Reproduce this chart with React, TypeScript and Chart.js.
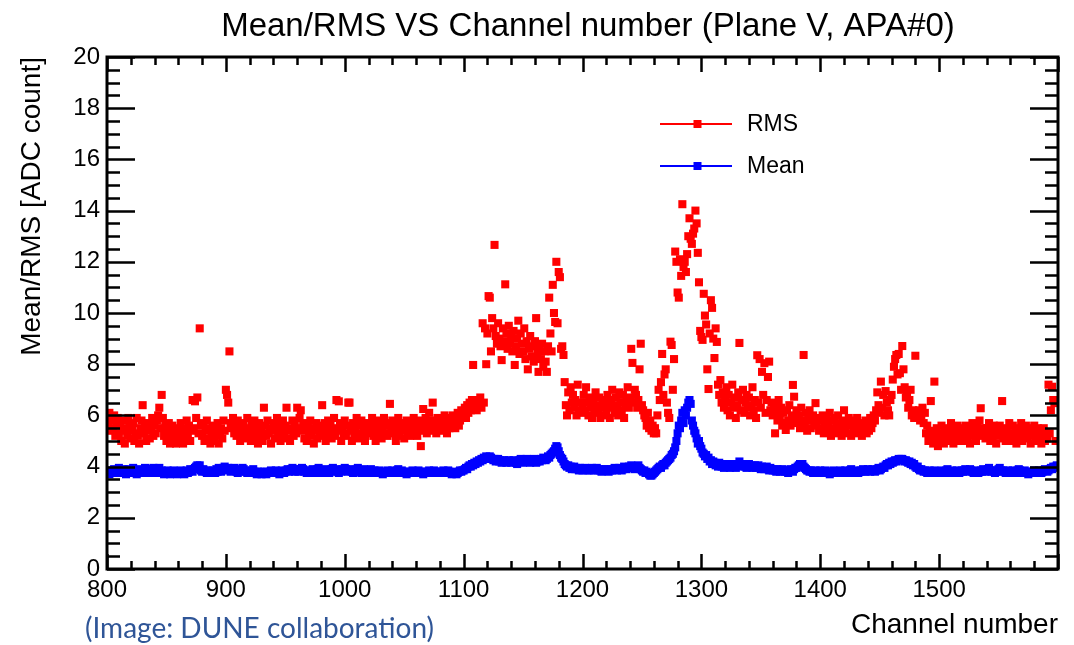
import React, { useEffect, useRef } from 'react';
import { Chart, registerables } from 'chart.js';

Chart.register(...registerables);

// ---------------- text ----------------
const chartTitle = 'Mean/RMS VS Channel number (Plane V, APA#0)';
const xAxisTitle = 'Channel number';
const yAxisTitle = 'Mean/RMS [ADC count]';
const creditText = '(Image: DUNE collaboration)';
const seriesNames = ['RMS', 'Mean'];

// ---------------- axes ----------------
const firstChannel = 800;
const xMin = 800;
const xMax = 1600;
const yMin = 0;
const yMax = 20;
const xTickValues = [800, 900, 1000, 1100, 1200, 1300, 1400, 1500];
const xTickLabels = ['800', '900', '1000', '1100', '1200', '1300', '1400', '1500'];
const yTickValues = [0, 2, 4, 6, 8, 10, 12, 14, 16, 18, 20];
const yTickLabels = ['0', '2', '4', '6', '8', '10', '12', '14', '16', '18', '20'];

// ---------------- data: one value per channel, starting at channel 800 ----------------
const rmsValues = [
  6.0, 5.6, 6.1, 5.4, 5.8, 5.5, 6.0, 5.2, 5.7, 5.9, 5.3, 5.6, 5.0, 5.8, 5.4, 4.9, 5.5, 5.2, 5.9, 5.6, // 800
  5.1, 5.4, 5.7, 5.0, 5.3, 5.9, 5.2, 4.9, 5.5, 5.8, 6.4, 5.3, 5.6, 5.0, 5.4, 5.7, 5.1, 5.5, 5.9, 5.2, // 820
  5.6, 5.3, 5.8, 6.0, 6.3, 5.5, 6.8, 5.9, 5.2, 5.6, 5.0, 5.4, 5.7, 4.9, 5.3, 5.6, 5.1, 5.5, 4.9, 5.2, // 840
  5.4, 5.0, 5.7, 5.3, 4.9, 5.5, 5.1, 5.8, 5.2, 5.6, 5.0, 5.4, 6.6, 5.5, 6.55, 5.9, 6.7, 5.3, 9.4, 5.6, // 860
  5.2, 5.7, 5.0, 5.4, 5.8, 5.1, 5.5, 4.9, 5.3, 5.6, 5.0, 5.4, 5.2, 5.7, 4.9, 5.3, 5.5, 5.1, 5.8, 5.4, // 880
  7.0, 6.8, 6.5, 8.5, 5.7, 5.5, 5.9, 5.3, 5.6, 5.2, 5.8, 5.4, 5.0, 5.6, 5.3, 5.7, 5.1, 5.5, 5.9, 5.2, // 900
  5.4, 5.0, 5.6, 5.3, 5.8, 5.1, 5.5, 4.9, 5.7, 5.2, 5.4, 5.0, 6.3, 5.6, 5.2, 5.8, 5.3, 5.5, 4.9, 5.4, // 920
  5.7, 5.1, 5.5, 5.9, 5.2, 5.6, 5.0, 5.4, 5.8, 5.3, 5.6, 6.3, 5.1, 5.5, 5.0, 5.4, 5.8, 5.2, 5.6, 5.3, // 940
  6.3, 5.5, 5.9, 6.2, 5.4, 5.7, 5.1, 5.5, 5.0, 5.6, 5.3, 5.8, 5.2, 5.5, 4.9, 5.4, 5.7, 5.1, 5.6, 5.3, // 960
  5.5, 6.4, 5.2, 5.7, 5.0, 5.4, 5.8, 5.3, 5.6, 5.1, 5.5, 5.9, 5.2, 6.6, 5.4, 6.55, 5.7, 5.0, 5.5, 5.3, // 980
  5.8, 5.2, 5.6, 6.5, 6.5, 5.4, 5.0, 5.7, 5.3, 5.5, 5.9, 5.1, 5.6, 5.3, 5.8, 5.2, 5.5, 5.0, 5.6, 5.4, // 1000
  5.7, 5.3, 5.5, 5.9, 5.2, 5.6, 5.0, 5.4, 5.8, 5.3, 5.6, 5.1, 5.5, 5.9, 5.3, 5.7, 5.2, 5.6, 6.45, 5.4, // 1020
  5.8, 5.3, 5.6, 5.0, 5.5, 5.9, 5.2, 5.7, 5.4, 5.6, 5.1, 5.5, 5.8, 5.3, 5.7, 5.2, 5.6, 5.4, 5.9, 5.3, // 1040
  5.6, 5.2, 5.8, 5.5, 4.8, 5.7, 6.25, 5.4, 5.9, 5.3, 5.6, 6.1, 5.5, 5.8, 6.5, 5.4, 5.7, 5.3, 5.9, 5.6, // 1060
  5.8, 5.4, 5.7, 5.5, 6.0, 5.6, 5.3, 5.9, 5.5, 5.8, 5.6, 6.0, 5.7, 5.5, 5.9, 6.1, 5.6, 5.8, 6.2, 5.9, // 1080
  6.0, 6.3, 5.9, 6.4, 6.1, 6.5, 6.2, 6.6, 7.97, 6.3, 6.6, 6.2, 6.5, 6.4, 6.7, 6.3, 9.6, 6.5, 9.4, 8.0, // 1100
  9.2, 10.66, 10.6, 8.5, 9.8, 9.4, 12.66, 9.1, 8.8, 9.6, 9.0, 8.7, 8.16, 9.4, 8.9, 11.12, 9.2, 8.6, 9.5, 8.8, // 1120
  9.1, 8.5, 9.3, 7.97, 8.7, 9.0, 9.7, 8.4, 9.2, 8.8, 8.5, 9.4, 8.2, 8.9, 7.8, 8.6, 9.1, 8.3, 8.7, 8.1, // 1140
  8.9, 9.8, 8.4, 7.7, 8.6, 8.2, 8.8, 7.9, 8.5, 8.1, 7.7, 8.7, 10.6, 9.2, 8.5, 11.1, 10.0, 9.65, 12.0, 9.6, // 1160
  11.6, 11.4, 8.6, 8.7, 8.36, 7.3, 6.4, 6.0, 6.9, 6.2, 7.1, 6.5, 6.8, 6.3, 6.6, 6.0, 7.2, 6.2, 6.5, 6.1, // 1180
  6.4, 6.8, 6.2, 7.1, 6.5, 6.0, 6.7, 6.3, 5.9, 6.6, 6.2, 6.9, 6.4, 6.1, 6.7, 5.9, 6.3, 6.6, 6.0, 6.5, // 1200
  6.2, 6.8, 6.4, 5.9, 6.6, 7.0, 6.3, 6.1, 6.7, 6.4, 6.0, 6.9, 6.5, 6.2, 6.8, 5.9, 6.4, 6.6, 7.1, 6.3, // 1220
  6.7, 8.6, 8.05, 6.5, 7.0, 6.8, 6.3, 6.6, 7.8, 8.8, 6.4, 6.2, 6.0, 5.9, 5.6, 6.1, 5.5, 5.8, 5.4, 5.6, // 1240
  5.3, 5.5, 5.3, 6.0, 7.0, 6.6, 7.3, 8.4, 6.8, 7.6, 7.8, 6.5, 6.1, 5.9, 8.88, 8.75, 7.0, 8.2, 12.4, 12.0, // 1260
  10.8, 10.6, 12.1, 11.45, 14.25, 11.8, 12.0, 11.6, 12.3, 13.0, 13.7, 12.9, 12.7, 13.1, 13.3, 14.0, 13.5, 12.35, 11.2, 9.3, // 1280
  9.06, 8.95, 10.75, 9.9, 9.55, 7.8, 7.03, 9.2, 10.5, 10.2, 9.0, 8.24, 9.4, 8.87, 7.2, 6.8, 7.38, 6.5, 6.9, 6.3, // 1300
  6.6, 7.1, 6.2, 6.8, 6.0, 6.5, 7.2, 6.3, 6.7, 5.9, 6.4, 6.9, 8.83, 6.2, 6.6, 7.0, 6.1, 6.5, 6.8, 6.3, // 1320
  6.7, 6.0, 6.4, 7.1, 6.2, 6.6, 5.9, 8.35, 6.5, 8.2, 6.3, 7.7, 6.8, 8.04, 6.1, 6.6, 7.5, 8.1, 6.2, 6.5, // 1340
  6.0, 6.4, 5.3, 6.2, 5.8, 6.6, 5.9, 6.3, 5.6, 6.1, 5.7, 5.43, 6.2, 5.8, 6.4, 5.6, 6.0, 7.19, 6.73, 5.9, // 1360
  6.2, 5.7, 6.0, 5.5, 6.3, 5.8, 8.36, 5.6, 6.1, 5.4, 5.9, 6.2, 5.5, 5.8, 6.0, 5.6, 6.48, 5.7, 5.9, 5.4, // 1380
  5.8, 5.5, 6.0, 5.3, 5.7, 5.9, 5.4, 5.6, 6.1, 5.2, 5.8, 5.5, 5.9, 5.3, 5.7, 6.0, 5.4, 5.6, 5.2, 5.8, // 1400
  6.2, 5.5, 5.7, 5.3, 5.9, 5.6, 5.2, 5.8, 5.4, 5.7, 5.5, 5.9, 5.3, 5.6, 5.4, 5.2, 5.7, 5.5, 5.8, 5.3, // 1420
  5.6, 5.4, 5.9, 5.5, 5.7, 6.0, 5.8, 6.2, 6.9, 6.4, 6.1, 7.32, 6.3, 6.8, 6.0, 6.95, 6.5, 6.2, 6.0, 6.6, // 1440
  6.8, 7.4, 7.9, 8.2, 8.36, 7.6, 8.4, 7.65, 7.0, 8.71, 7.8, 7.1, 6.7, 6.9, 6.3, 6.6, 7.0, 6.0, 6.2, 5.9, // 1460
  8.33, 6.1, 5.9, 6.2, 5.8, 6.0, 6.3, 5.7, 6.1, 5.3, 5.6, 5.0, 5.4, 6.56, 5.2, 4.9, 7.32, 5.1, 5.5, 4.8, // 1480
  5.3, 5.0, 5.6, 5.2, 4.9, 5.4, 5.1, 5.5, 5.0, 5.3, 5.7, 5.2, 4.9, 5.4, 5.1, 5.6, 5.3, 5.0, 5.5, 5.2, // 1500
  5.4, 5.0, 5.6, 5.3, 5.1, 5.5, 4.9, 5.3, 5.7, 5.2, 5.4, 5.0, 5.6, 5.3, 5.8, 6.28, 5.5, 5.2, 5.4, 5.1, // 1520
  5.5, 5.2, 5.7, 5.0, 5.4, 5.1, 5.6, 5.3, 4.9, 5.5, 5.2, 5.6, 5.3, 6.56, 5.1, 5.4, 5.0, 5.5, 5.2, 5.7, // 1540
  5.3, 5.0, 5.6, 5.2, 5.4, 4.9, 5.5, 5.1, 5.3, 5.7, 5.0, 5.4, 5.2, 5.6, 5.1, 5.3, 5.5, 4.9, 5.4, 5.2, // 1560
  5.6, 5.0, 5.3, 5.5, 5.1, 5.4, 4.9, 5.2, 5.5, 5.0, 5.3, 5.1, 7.2, 5.3, 6.2, 7.12, 6.6, 6.48, 5.0, 6.6, // 1580
];

const meanValues = [
  3.75, 3.8, 3.7, 3.85, 3.75, 3.8, 3.9, 3.75, 3.8, 3.85, 3.95, 3.8, 3.75, 3.85, 3.9, 3.8, 3.7, 3.85, 3.9, 3.8, // 800
  3.75, 3.85, 3.95, 3.8, 3.75, 3.7, 3.85, 3.8, 3.9, 3.75, 3.8, 3.85, 3.95, 3.9, 3.8, 3.75, 3.85, 3.8, 3.9, 3.95, // 820
  3.8, 3.75, 3.85, 3.9, 3.95, 3.8, 3.85, 3.75, 3.7, 3.8, 3.75, 3.85, 3.8, 3.7, 3.75, 3.8, 3.85, 3.75, 3.8, 3.7, // 840
  3.75, 3.8, 3.85, 3.75, 3.8, 3.7, 3.8, 3.85, 3.75, 3.8, 3.9, 3.85, 3.8, 3.9, 3.95, 4.0, 4.05, 3.9, 4.05, 3.85, // 860
  3.8, 3.9, 3.85, 3.8, 3.75, 3.85, 3.8, 3.75, 3.8, 3.85, 3.8, 3.75, 3.9, 3.8, 3.95, 3.85, 3.8, 3.9, 3.95, 4.0, // 880
  3.9, 3.85, 3.95, 3.9, 3.8, 3.85, 3.9, 3.95, 3.85, 3.8, 3.75, 3.85, 3.9, 3.8, 3.95, 3.9, 3.85, 3.8, 3.75, 3.8, // 900
  3.75, 3.8, 3.85, 3.9, 3.8, 3.75, 3.7, 3.8, 3.75, 3.8, 3.7, 3.75, 3.8, 3.75, 3.7, 3.8, 3.75, 3.8, 3.85, 3.75, // 920
  3.8, 3.75, 3.85, 3.8, 3.75, 3.7, 3.8, 3.85, 3.8, 3.75, 3.8, 3.85, 3.9, 3.8, 3.85, 3.9, 3.95, 3.85, 3.8, 3.9, // 940
  3.85, 3.8, 3.9, 3.85, 3.95, 3.9, 3.8, 3.85, 3.75, 3.8, 3.85, 3.75, 3.8, 3.9, 3.85, 3.8, 3.75, 3.9, 3.95, 3.85, // 960
  3.8, 3.85, 3.75, 3.8, 3.9, 3.85, 3.8, 3.75, 3.85, 3.9, 3.95, 3.85, 3.8, 3.9, 3.8, 3.75, 3.85, 3.8, 3.9, 3.85, // 980
  3.95, 3.9, 3.85, 3.8, 3.9, 3.85, 3.8, 3.75, 3.85, 3.8, 3.9, 3.95, 3.85, 3.8, 3.75, 3.8, 3.9, 3.85, 3.8, 3.75, // 1000
  3.8, 3.85, 3.9, 3.8, 3.75, 3.85, 3.8, 3.75, 3.8, 3.85, 3.8, 3.75, 3.7, 3.8, 3.75, 3.8, 3.85, 3.8, 3.75, 3.8, // 1020
  3.85, 3.8, 3.75, 3.8, 3.85, 3.9, 3.8, 3.75, 3.85, 3.8, 3.75, 3.8, 3.7, 3.75, 3.8, 3.75, 3.8, 3.85, 3.75, 3.8, // 1040
  3.75, 3.8, 3.85, 3.8, 3.75, 3.8, 3.7, 3.75, 3.8, 3.75, 3.8, 3.85, 3.8, 3.75, 3.8, 3.85, 3.8, 3.75, 3.8, 3.75, // 1060
  3.8, 3.75, 3.8, 3.85, 3.8, 3.75, 3.8, 3.85, 3.8, 3.75, 3.7, 3.75, 3.8, 3.75, 3.7, 3.75, 3.8, 3.85, 3.8, 3.85, // 1080
  3.85, 3.9, 3.95, 3.9, 4.0, 4.05, 4.0, 4.1, 4.05, 4.15, 4.1, 4.2, 4.15, 4.25, 4.2, 4.3, 4.25, 4.35, 4.3, 4.4, // 1100
  4.35, 4.3, 4.4, 4.35, 4.3, 4.25, 4.3, 4.2, 4.25, 4.3, 4.2, 4.25, 4.15, 4.2, 4.25, 4.2, 4.15, 4.2, 4.25, 4.2, // 1120
  4.15, 4.2, 4.25, 4.2, 4.15, 4.1, 4.2, 4.25, 4.3, 4.2, 4.15, 4.2, 4.25, 4.3, 4.25, 4.2, 4.15, 4.2, 4.25, 4.3, // 1140
  4.2, 4.15, 4.2, 4.25, 4.2, 4.3, 4.25, 4.35, 4.3, 4.25, 4.3, 4.4, 4.35, 4.45, 4.5, 4.55, 4.6, 4.7, 4.8, 4.75, // 1160
  4.6, 4.45, 4.35, 4.3, 4.2, 4.1, 4.05, 4.0, 4.05, 3.95, 4.0, 3.9, 3.95, 4.0, 3.9, 3.95, 3.9, 3.85, 3.95, 3.9, // 1180
  3.85, 3.9, 3.95, 3.9, 3.85, 3.9, 3.85, 3.9, 3.95, 3.9, 3.85, 3.9, 3.95, 3.85, 3.9, 3.85, 3.8, 3.85, 3.9, 3.85, // 1200
  3.9, 3.85, 3.8, 3.85, 3.9, 3.85, 3.9, 3.95, 3.9, 3.85, 3.9, 3.95, 3.9, 3.85, 3.9, 4.0, 3.95, 3.9, 3.95, 4.0, // 1220
  3.95, 4.05, 4.0, 3.95, 3.9, 3.95, 4.0, 4.05, 3.95, 3.9, 3.85, 3.8, 3.85, 3.75, 3.8, 3.75, 3.7, 3.65, 3.65, 3.7, // 1240
  3.75, 3.8, 3.85, 3.9, 3.95, 4.0, 3.95, 4.05, 4.1, 4.05, 4.15, 4.2, 4.25, 4.3, 4.35, 4.45, 4.5, 4.6, 4.75, 5.0, // 1260
  5.3, 5.6, 5.5, 5.8, 6.1, 5.7, 6.2, 6.0, 6.3, 6.5, 6.6, 6.45, 5.8, 5.6, 5.4, 5.3, 5.1, 4.9, 5.0, 4.8, // 1280
  4.7, 4.55, 4.5, 4.4, 4.45, 4.3, 4.35, 4.2, 4.25, 4.1, 4.2, 4.15, 4.05, 4.1, 4.0, 4.15, 4.05, 4.0, 4.1, 3.95, // 1300
  4.05, 4.0, 4.1, 4.05, 3.95, 4.0, 4.1, 4.05, 4.0, 3.95, 4.05, 4.1, 4.2, 4.05, 4.0, 4.1, 4.05, 4.0, 3.95, 4.05, // 1320
  4.1, 4.0, 4.05, 3.95, 4.0, 4.05, 3.95, 4.0, 4.05, 3.95, 3.9, 4.0, 3.95, 3.9, 3.95, 4.0, 3.9, 3.85, 3.95, 3.9, // 1340
  3.85, 3.9, 3.85, 3.8, 3.9, 3.85, 3.8, 3.85, 3.9, 3.85, 3.8, 3.85, 3.8, 3.75, 3.85, 3.9, 3.85, 3.8, 3.9, 3.95, // 1360
  3.95, 4.0, 4.05, 4.1, 4.05, 4.1, 4.0, 3.95, 3.9, 3.85, 3.85, 3.8, 3.85, 3.8, 3.75, 3.8, 3.85, 3.8, 3.75, 3.8, // 1380
  3.85, 3.8, 3.75, 3.8, 3.85, 3.8, 3.75, 3.8, 3.7, 3.75, 3.8, 3.85, 3.8, 3.75, 3.8, 3.75, 3.8, 3.85, 3.8, 3.75, // 1400
  3.8, 3.85, 3.8, 3.75, 3.8, 3.85, 3.9, 3.8, 3.75, 3.8, 3.85, 3.8, 3.75, 3.8, 3.85, 3.8, 3.9, 3.85, 3.8, 3.85, // 1420
  3.9, 3.85, 3.8, 3.85, 3.9, 3.85, 3.8, 3.85, 3.9, 3.95, 3.85, 3.9, 3.95, 4.0, 3.95, 4.05, 4.1, 4.05, 4.15, 4.1, // 1440
  4.2, 4.15, 4.2, 4.25, 4.2, 4.25, 4.3, 4.25, 4.3, 4.3, 4.25, 4.2, 4.25, 4.2, 4.15, 4.2, 4.1, 4.15, 4.05, 4.1, // 1460
  4.0, 3.95, 4.0, 3.9, 3.85, 3.9, 3.85, 3.8, 3.85, 3.8, 3.75, 3.8, 3.85, 3.8, 3.75, 3.8, 3.85, 3.8, 3.75, 3.8, // 1480
  3.75, 3.8, 3.85, 3.8, 3.75, 3.8, 3.85, 3.9, 3.8, 3.75, 3.8, 3.85, 3.8, 3.75, 3.8, 3.85, 3.8, 3.75, 3.8, 3.85, // 1500
  3.8, 3.85, 3.9, 3.85, 3.8, 3.85, 3.9, 3.85, 3.8, 3.75, 3.8, 3.85, 3.8, 3.75, 3.8, 3.85, 3.8, 3.9, 3.85, 3.8, // 1520
  3.85, 3.9, 3.95, 3.85, 3.8, 3.85, 3.8, 3.75, 3.8, 3.85, 3.9, 3.95, 3.85, 3.8, 3.85, 3.8, 3.75, 3.8, 3.85, 3.8, // 1540
  3.75, 3.8, 3.85, 3.8, 3.75, 3.8, 3.85, 3.9, 3.85, 3.8, 3.75, 3.8, 3.85, 3.8, 3.75, 3.7, 3.75, 3.8, 3.75, 3.8, // 1560
  3.85, 3.8, 3.75, 3.8, 3.85, 3.8, 3.75, 3.8, 3.85, 3.9, 3.85, 3.8, 3.85, 3.9, 3.95, 3.9, 4.0, 3.95, 4.0, 4.05, // 1580
];

// ---------------- styling ----------------
const W = 1074;
const H = 645;
const PLOT_LEFT = 107;
const PLOT_RIGHT = 1058;
const PLOT_TOP = 57;
const PLOT_BOTTOM = 569;
const FONT = '"Liberation Sans", Arial, Helvetica, sans-serif';
const RED = '#ff0000';
const BLUE = '#0000ff';
const MARKER_RADIUS = 5.7; // rect side = 2 * r * sqrt(1/2) ≈ 8px

const toPoints = (vals: number[]) => vals.map((v, i) => ({ x: firstChannel + i, y: v }));

const framePlugin = {
  id: 'rootFrame',
  afterDatasetsDraw(chart: any) {
    const { ctx, chartArea, scales } = chart;
    const { left, right, top, bottom } = chartArea;
    const xs = scales.x;
    const ys = scales.y;
    ctx.save();
    ctx.strokeStyle = '#000';
    ctx.lineCap = 'butt';
    ctx.lineWidth = 2.5;
    ctx.beginPath();
    for (let v = xMin; v <= xMax; v += 20) {
      const px = Math.round(xs.getPixelForValue(v)) + 0.5;
      const len = v % 100 === 0 ? 15 : 8;
      ctx.moveTo(px, bottom);
      ctx.lineTo(px, bottom - len);
      ctx.moveTo(px, top);
      ctx.lineTo(px, top + len);
    }
    for (let v = yMin; v <= yMax + 1e-9; v += 0.5) {
      const py = Math.round(ys.getPixelForValue(v)) + 0.5;
      const len = Math.abs(v % 2) < 1e-9 ? 28 : 13;
      ctx.moveTo(left, py);
      ctx.lineTo(left + len, py);
      ctx.moveTo(right, py);
      ctx.lineTo(right - len, py);
    }
    ctx.stroke();
    ctx.lineWidth = 3;
    ctx.strokeRect(left, top, right - left, bottom - top);
    ctx.restore();
  },
};

const legendPlugin = {
  id: 'rootLegend',
  afterDraw(chart: any) {
    const { ctx } = chart;
    const rows = [124, 166];
    ctx.save();
    chart.data.datasets.forEach((ds: any, i: number) => {
      const y = rows[i];
      ctx.strokeStyle = ds.borderColor;
      ctx.lineWidth = 2;
      ctx.beginPath();
      ctx.moveTo(660, y);
      ctx.lineTo(732, y);
      ctx.stroke();
      ctx.fillStyle = ds.backgroundColor;
      ctx.fillRect(693.5, y - 4, 8, 8);
      ctx.fillStyle = '#000';
      ctx.font = `23px ${FONT}`;
      ctx.textAlign = 'left';
      ctx.textBaseline = 'middle';
      ctx.fillText(ds.label, 747, y + 1);
    });
    ctx.restore();
  },
};

const titlePlugin = {
  id: 'rootTitle',
  afterDraw(chart: any) {
    const { ctx } = chart;
    ctx.save();
    ctx.fillStyle = '#000';
    ctx.font = `33px ${FONT}`;
    ctx.textAlign = 'center';
    ctx.textBaseline = 'alphabetic';
    ctx.fillText(chartTitle, 588, 36);
    ctx.restore();
  },
};

export default function App() {
  const canvasRef = useRef<HTMLCanvasElement | null>(null);

  useEffect(() => {
    const canvas = canvasRef.current;
    if (!canvas) return;
    const chart = new Chart(canvas, {
      type: 'scatter',
      data: {
        datasets: [
          {
            label: seriesNames[0],
            data: toPoints(rmsValues),
            backgroundColor: RED,
            borderColor: RED,
            pointStyle: 'rect',
            pointRadius: MARKER_RADIUS,
            pointHoverRadius: MARKER_RADIUS,
            pointBorderWidth: 0,
            showLine: false,
          },
          {
            label: seriesNames[1],
            data: toPoints(meanValues),
            backgroundColor: BLUE,
            borderColor: BLUE,
            pointStyle: 'rect',
            pointRadius: MARKER_RADIUS,
            pointHoverRadius: MARKER_RADIUS,
            pointBorderWidth: 0,
            showLine: false,
          },
        ],
      },
      options: {
        animation: false,
        responsive: false,
        devicePixelRatio: 1,
        events: [],
        layout: { padding: { left: 0, right: W - PLOT_RIGHT, top: PLOT_TOP, bottom: 0 } },
        plugins: {
          legend: { display: false },
          title: { display: false },
          tooltip: { enabled: false },
        },
        scales: {
          x: {
            type: 'linear',
            min: xMin,
            max: xMax,
            afterBuildTicks: (s: any) => {
              s.ticks = xTickValues.map((v) => ({ value: v }));
            },
            afterFit: (s: any) => {
              s.height = H - PLOT_BOTTOM;
            },
            ticks: {
              autoSkip: false,
              maxRotation: 0,
              minRotation: 0,
              padding: 7,
              color: '#000',
              font: { family: FONT, size: 24 },
              callback: (v: any) => {
                const k = xTickValues.indexOf(Number(v));
                return k >= 0 ? xTickLabels[k] : '';
              },
            },
            grid: { display: false, drawTicks: false },
            border: { display: false },
            title: {
              display: true,
              text: xAxisTitle,
              align: 'end',
              color: '#000',
              font: { family: FONT, size: 28 },
              padding: { top: 0, bottom: 3 },
            },
          },
          y: {
            type: 'linear',
            min: yMin,
            max: yMax,
            afterBuildTicks: (s: any) => {
              s.ticks = yTickValues.map((v) => ({ value: v }));
            },
            afterFit: (s: any) => {
              s.width = PLOT_LEFT;
            },
            ticks: {
              autoSkip: false,
              padding: 7,
              color: '#000',
              font: { family: FONT, size: 24 },
              callback: (v: any) => {
                const k = yTickValues.indexOf(Number(v));
                return k >= 0 ? yTickLabels[k] : '';
              },
            },
            grid: { display: false, drawTicks: false },
            border: { display: false },
            title: {
              display: true,
              text: yAxisTitle,
              align: 'end',
              color: '#000',
              font: { family: FONT, size: 28 },
              padding: { top: 15, bottom: 0 },
            },
          },
        },
      },
      plugins: [framePlugin, legendPlugin, titlePlugin],
    } as any);
    return () => chart.destroy();
  }, []);

  return (
    <div style={{ position: 'fixed', left: 0, top: 0, width: W, height: H, background: '#fff' }}>
      <canvas ref={canvasRef} width={W} height={H} style={{ display: 'block', width: W, height: H }} />
      <div
        style={{
          position: 'absolute',
          left: 85,
          top: 613,
          fontFamily: 'Lato, "Open Sans", sans-serif',
          fontSize: 28,
          lineHeight: 1,
          color: '#2f5597',
          whiteSpace: 'nowrap',
        }}
      >
        {creditText}
      </div>
    </div>
  );
}
